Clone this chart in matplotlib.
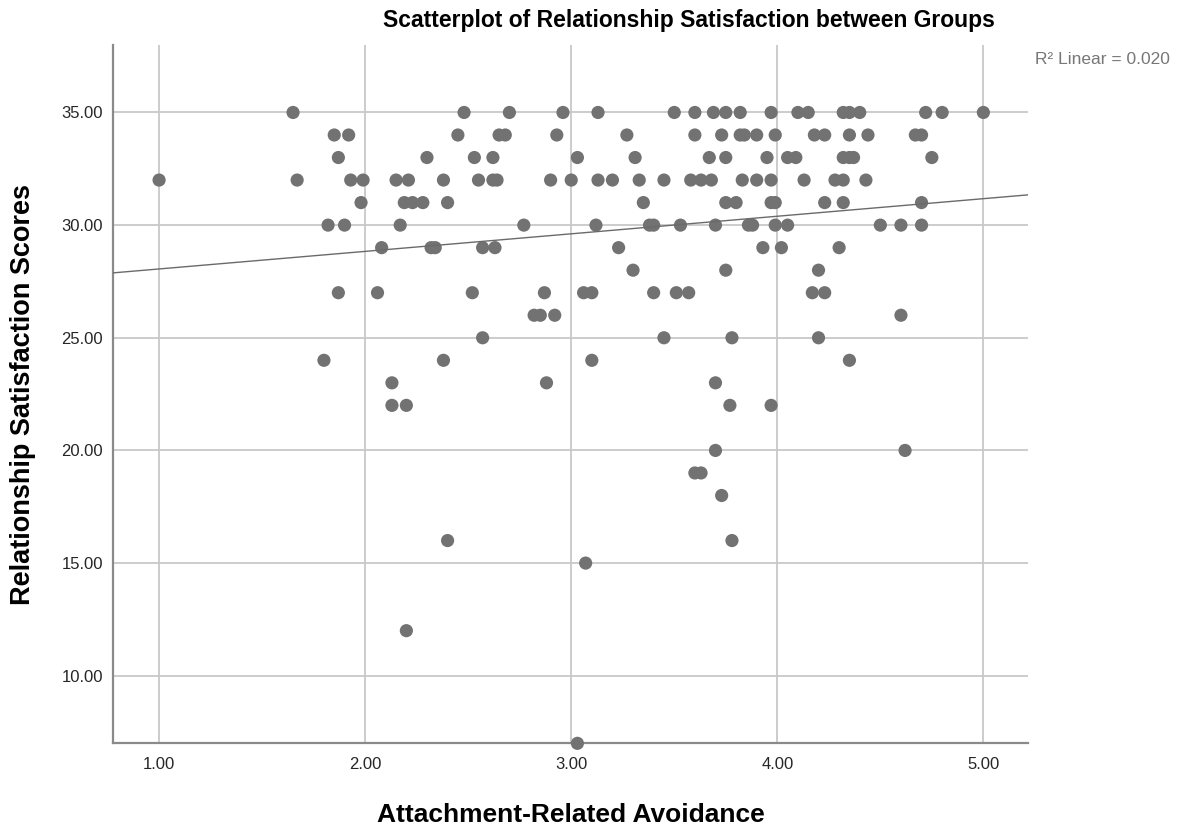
import numpy as np
from matplotlib import pyplot as plt

plt.rcParams['font.family'] = ['Liberation Sans', 'DejaVu Sans']

# avoidance scores, grouped by satisfaction score
avoid35 = [1.65, 2.48, 2.70, 2.96, 3.13, 3.50, 3.60, 3.69, 3.75, 3.82, 3.97, 4.10, 4.15, 4.32, 4.35, 4.40, 4.72, 4.80, 5.00]
avoid34 = [1.85, 1.92, 2.45, 2.65, 2.68, 2.93, 3.27, 3.60, 3.73, 3.82, 3.84, 3.90, 3.99, 4.18, 4.23, 4.35, 4.44, 4.67, 4.70]
avoid33 = [1.87, 2.30, 2.53, 2.62, 3.03, 3.31, 3.67, 3.75, 3.95, 4.05, 4.09, 4.32, 4.35, 4.37, 4.75]
avoid32 = [1.00, 1.67, 1.93, 1.99, 2.15, 2.21, 2.38, 2.55, 2.62, 2.64, 2.90, 3.00, 3.13, 3.20, 3.33,
           3.45, 3.58, 3.63, 3.68, 3.83, 3.90, 3.97, 4.13, 4.28, 4.32, 4.43]
avoid31 = [1.98, 2.19, 2.23, 2.28, 2.40, 3.35, 3.75, 3.80, 3.97, 3.99, 4.23, 4.32, 4.70]
avoid30 = [1.82, 1.90, 2.17, 2.77, 3.12, 3.38, 3.40, 3.53, 3.70, 3.86, 3.88, 3.99, 4.05, 4.50, 4.60, 4.70]
avoid29 = [2.08, 2.32, 2.34, 2.57, 2.63, 3.23, 3.93, 4.02, 4.30]
avoid28 = [3.30, 3.75, 4.20]
avoid27 = [1.87, 2.06, 2.52, 2.87, 3.06, 3.10, 3.40, 3.51, 3.57, 4.17, 4.23]
avoid26 = [2.82, 2.85, 2.92, 4.60]
avoid25 = [2.57, 3.45, 3.78, 4.20]
avoid24 = [1.80, 2.38, 3.10, 4.35]
avoid23 = [2.13, 2.88, 3.70]
avoid22 = [2.13, 2.20, 3.77, 3.97]
avoid20 = [3.70, 4.62]
avoid19 = [3.60, 3.63]
avoid18 = [3.73]
avoid16 = [2.40, 3.78]
avoid15 = [3.07]
avoid12 = [2.20]
avoid7 = [3.03]

groups = {35: avoid35, 34: avoid34, 33: avoid33, 32: avoid32, 31: avoid31, 30: avoid30,
          29: avoid29, 28: avoid28, 27: avoid27, 26: avoid26, 25: avoid25, 24: avoid24,
          23: avoid23, 22: avoid22, 20: avoid20, 19: avoid19, 18: avoid18, 16: avoid16,
          15: avoid15, 12: avoid12, 7: avoid7}

x = []
y = []
for score, vals in groups.items():
    x += vals
    y += [score] * len(vals)
x = np.array(x)
y = np.array(y, dtype=float)

xTicks = [1, 2, 3, 4, 5]
yTicks = [10, 15, 20, 25, 30, 35]

fig = plt.figure(figsize=(11.79, 8.31), dpi=100)
ax = fig.add_axes([0.0956, 0.1055, 0.7764, 0.8405])

ax.set_xlim(0.775, 5.217)
ax.set_ylim(7.0, 38.0)
ax.set_xticks(xTicks)
ax.set_yticks(yTicks)
ax.set_xticklabels(['%.2f' % t for t in xTicks])
ax.set_yticklabels(['%.2f' % t for t in yTicks])
ax.grid(True, color='#c8c8c8', linewidth=1.3)
ax.set_axisbelow(True)
ax.tick_params(length=0, labelsize=12, colors='#262626')
ax.tick_params(axis='y', pad=7)
ax.tick_params(axis='x', pad=10)
for side in ['top', 'right']:
    ax.spines[side].set_visible(False)
for side in ['left', 'bottom']:
    ax.spines[side].set_color('#8a8a8a')
    ax.spines[side].set_linewidth(1.6)

ax.scatter(x, y, s=90, color='#727272', edgecolors='none', zorder=3, clip_on=False)

# linear fit across the whole axis
slope, intercept = np.polyfit(x, y, 1)
xs = np.array(ax.get_xlim())
ax.plot(xs, intercept + slope * xs, color='#6a6a6a', linewidth=1.0, zorder=4)

fig.text(0.584, 0.975, 'Scatterplot of Relationship Satisfaction between Groups',
         ha='center', va='center', fontsize=16.5, fontweight='bold')
fig.text(0.878, 0.928, 'R² Linear = 0.020', ha='left', va='center', fontsize=12.5, color='#777777')
fig.text(0.4839, 0.019, 'Attachment-Related Avoidance', ha='center', va='center',
         fontsize=19, fontweight='bold')
fig.text(0.0195, 0.525, 'Relationship Satisfaction Scores', ha='center', va='center',
         rotation=90, fontsize=19.5, fontweight='bold')

fig.savefig('out.png', dpi=100)
